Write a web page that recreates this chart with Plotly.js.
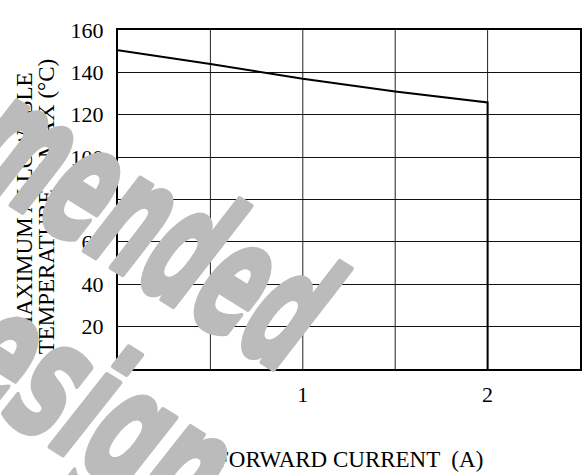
<!DOCTYPE html>
<html>
<head>
<meta charset="utf-8">
<script src="https://cdn.plot.ly/plotly-3.0.1.min.js"></script>
<style>html,body{margin:0;padding:0;background:#fff;}#chart{width:588px;height:475px;}</style>
</head>
<body>
<div id="chart"></div>
<script>
// Data
var currentA = [0, 0.5, 1.0, 1.5, 2.0, 2.0];
var tjMaxC   = [150.5, 144, 137, 131, 125.8, 0];
var yTickVals = [20, 40, 60, 80, 100, 120, 140, 160];
var xTickVals = [1, 2];
var xTitle = "FORWARD CURRENT  (A)";
var yTitleLine1 = "MAXIMUM ALLOWABLE";
var yTitleLine2 = "TEMPERATURE  T<sub>J</sub>MAX (°C)";
var watermarkWords = ["Recommended", "Design"];

var serif = "'Liberation Serif', 'Times New Roman', serif";
var trace = {
  x: currentA, y: tjMaxC, mode: 'lines', type: 'scatter',
  line: {color: '#000', width: 2}, hoverinfo: 'none', showlegend: false
};
var wmFont = {family: "'Liberation Sans Narrow', 'DejaVu Sans Condensed', sans-serif", size: 165, color: '#bbbbbb', weight: 'bold', style: 'italic'};
var titleFont = {family: serif, size: 23, color: '#000'};
var layout = {
  width: 588, height: 475,
  margin: {l: 118, r: 8, t: 30, b: 106},
  paper_bgcolor: '#fff', plot_bgcolor: '#fff',
  font: {family: serif, size: 22, color: '#000'},
  xaxis: {
    range: [0, 2.5], tickvals: xTickVals, ticks: '', ticklabelstandoff: 5,
    showgrid: false, zeroline: false,
    showline: true, mirror: true, linecolor: '#000', linewidth: 2,
    tickfont: {family: serif, size: 22, color: '#000'}
  },
  yaxis: {
    range: [0, 160], tickvals: yTickVals, ticks: '', ticklabelstandoff: 8,
    showgrid: true, gridcolor: '#111', gridwidth: 1, zeroline: false,
    showline: true, mirror: true, linecolor: '#000', linewidth: 2,
    tickfont: {family: serif, size: 22, color: '#000'}
  },
  shapes: [0.5, 1, 1.5, 2].map(function (v) {
    return {type: 'line', xref: 'x', yref: 'paper', x0: v, x1: v, y0: 0, y1: 1,
      line: {color: '#222', width: 1}, layer: 'below'};
  }),
  annotations: [
    {text: xTitle, xref: 'paper', yref: 'paper', x: 0.5, y: -0.268, xanchor: 'center', yanchor: 'middle',
     showarrow: false, font: titleFont},
    {text: yTitleLine1, xref: 'paper', yref: 'paper', x: -0.2035, y: 0.486,
     xanchor: 'center', yanchor: 'middle', textangle: -90, showarrow: false, font: titleFont},
    {text: yTitleLine2, xref: 'paper', yref: 'paper', x: -0.1515, y: 0.48,
     xanchor: 'center', yanchor: 'middle', textangle: -90, showarrow: false, font: titleFont},
    {text: watermarkWords[0], xref: 'paper', yref: 'paper', x: -0.215, y: 0.67,
     xanchor: 'center', yanchor: 'middle', textangle: 32, showarrow: false, font: wmFont},
    {text: watermarkWords[1], xref: 'paper', yref: 'paper', x: -0.115, y: -0.056,
     xanchor: 'center', yanchor: 'middle', textangle: 32, showarrow: false, font: wmFont}
  ]
};
var wmLengths = {Recommended: 700, Design: 360};
Plotly.newPlot('chart', [trace], layout, {staticPlot: true, displayModeBar: false}).then(function (gd) {
  gd.querySelectorAll('text.annotation-text').forEach(function (t) {
    var s = t.textContent;
    if (wmLengths[s]) {
      t.setAttribute('textLength', wmLengths[s]);
      t.setAttribute('lengthAdjust', 'spacingAndGlyphs');
      t.style.stroke = '#bbbbbb';
      t.style.strokeWidth = '6px';
      t.style.strokeLinejoin = 'round';
    }
  });
});
</script>
</body>
</html>
